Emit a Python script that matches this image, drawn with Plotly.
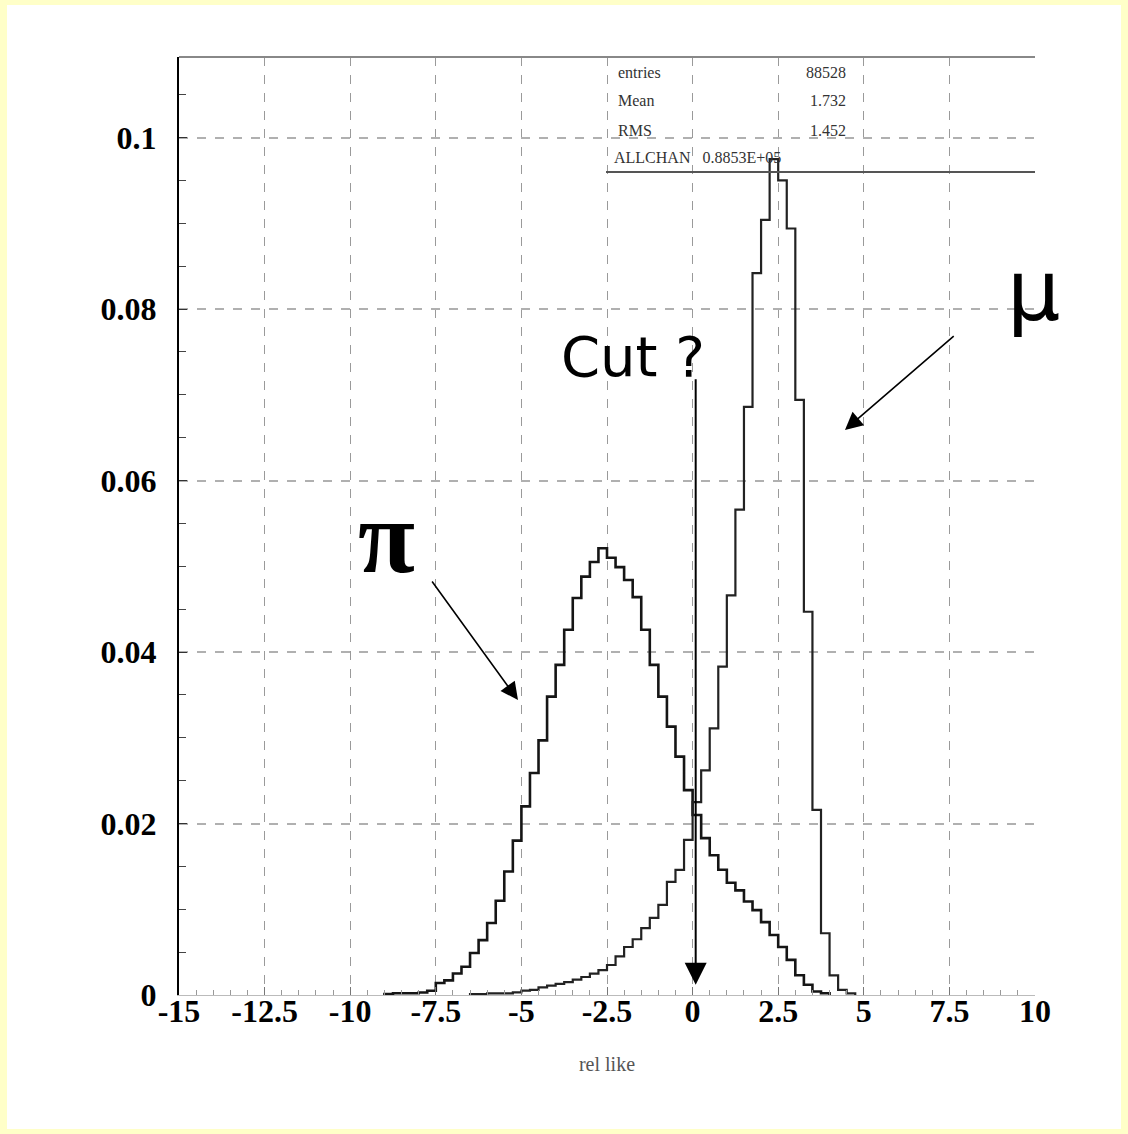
import numpy as np
import plotly.graph_objects as go

# ---------------- data ----------------
bin_width = 0.25
pion_start = -9.0
pion_values = [0.0001, 0.0002, 0.0002, 0.0002, 0.0003, 0.0005, 0.0014, 0.0017, 0.0025, 0.0033,
               0.0049, 0.0064, 0.0084, 0.0110, 0.0144, 0.0180, 0.0220, 0.0259, 0.0297, 0.0348,
               0.0385, 0.0426, 0.0463, 0.0488, 0.0505, 0.0521, 0.0510, 0.0499, 0.0484, 0.0464,
               0.0426, 0.0385, 0.0348, 0.0313, 0.0278, 0.0239, 0.0210, 0.0183, 0.0163, 0.0146,
               0.0131, 0.0122, 0.0109, 0.0099, 0.0085, 0.0070, 0.0056, 0.0041, 0.0023, 0.0012,
               0.0004, 0.0002]
muon_start = -6.5
muon_values = [0.0001, 0.0001, 0.0002, 0.0002, 0.0002, 0.0003, 0.0005, 0.0006, 0.0009, 0.0011,
               0.0013, 0.0015, 0.0018, 0.0021, 0.0025, 0.0029, 0.0035, 0.0045, 0.0056, 0.0065,
               0.0078, 0.0090, 0.0105, 0.0132, 0.0146, 0.0181, 0.0225, 0.0262, 0.0311, 0.0383,
               0.0466, 0.0566, 0.0686, 0.0842, 0.0904, 0.0975, 0.0950, 0.0894, 0.0694, 0.0447,
               0.0216, 0.0072, 0.0023, 0.0006, 0.0002]

x_ticks = [-15, -12.5, -10, -7.5, -5, -2.5, 0, 2.5, 5, 7.5, 10]
x_tick_labels = ["-15", "-12.5", "-10", "-7.5", "-5", "-2.5", "0", "2.5", "5", "7.5", "10"]
y_ticks = [0, 0.02, 0.04, 0.06, 0.08, 0.1]
y_tick_labels = ["0", "0.02", "0.04", "0.06", "0.08", "0.1"]

stats_names = ["entries", "Mean", "RMS"]
stats_values = ["88528", "1.732", "1.452"]
allchan_text = "ALLCHAN   0.8853E+05"

cut_position = 0.09


def step_xy(start, values):
    edges = start + bin_width * np.arange(len(values) + 1)
    xs = np.concatenate([[edges[0]], edges])
    ys = np.concatenate([[0.0], values, [0.0]])
    return xs, ys


fig = go.Figure()

px_, py_ = step_xy(pion_start, pion_values)
fig.add_trace(go.Scatter(x=px_, y=py_, mode="lines", line=dict(shape="hv", color="#151515", width=2.6),
                         name="pi", showlegend=False, hoverinfo="skip"))
mx_, my_ = step_xy(muon_start, muon_values)
fig.add_trace(go.Scatter(x=mx_, y=my_, mode="lines", line=dict(shape="hv", color="#222222", width=2.2),
                         name="mu", showlegend=False, hoverinfo="skip"))

# ---------------- layout geometry ----------------
W, H = 1128, 1134
L, R, T, B = 179, 93, 57, 139
pw, ph = W - L - R, H - T - B


def paper_x(px):
    return (px - L) / pw


def paper_y(py):
    return (H - B - py) / ph


shapes = [
    # white card on yellow paper
    dict(type="rect", xref="paper", yref="paper", layer="below",
         x0=paper_x(7), x1=paper_x(1121), y0=paper_y(1129), y1=paper_y(5),
         fillcolor="white", line=dict(width=0)),
    # top frame line
    dict(type="line", xref="paper", yref="paper", x0=0, x1=1, y0=1, y1=1,
         line=dict(color="#888888", width=2)),
    # stats box bottom line
    dict(type="line", xref="paper", yref="paper", x0=paper_x(606), x1=1,
         y0=paper_y(172), y1=paper_y(172), line=dict(color="#555555", width=2)),
]

annotations = []
stat_font = dict(family="Liberation Serif", size=16, color="#333333")
row_py = [72, 101, 130]
for name, val, rpy in zip(stats_names, stats_values, row_py):
    annotations.append(dict(xref="paper", yref="paper", x=paper_x(616), y=paper_y(rpy), text=name,
                            showarrow=False, xanchor="left", yanchor="middle", font=stat_font))
    annotations.append(dict(xref="paper", yref="paper", x=paper_x(848), y=paper_y(rpy), text=val,
                            showarrow=False, xanchor="right", yanchor="middle", font=stat_font))
annotations.append(dict(xref="paper", yref="paper", x=paper_x(612), y=paper_y(157), text=allchan_text,
                        showarrow=False, xanchor="left", yanchor="middle", font=stat_font))

# Cut text and arrow
annotations.append(dict(x=-1.75, y=0.0745, xref="x", yref="y", text="Cut ?", showarrow=False,
                        font=dict(family="DejaVu Sans", size=56, color="black")))
annotations.append(dict(x=cut_position, y=0.0012, xref="x", yref="y", ax=cut_position, ay=0.072,
                        axref="x", ayref="y", text="", showarrow=True, arrowhead=2, arrowsize=2.2,
                        arrowwidth=2, arrowcolor="black"))
# mu label (outside the axis range -> paper coordinates) and arrow
annotations.append(dict(x=paper_x(1062), y=paper_y(240), xref="paper", yref="paper", text="μ",
                        showarrow=False, font=dict(family="DejaVu Sans", size=84, color="black")))
annotations.append(dict(x=4.45, y=0.0659, xref="x", yref="y", ax=7.67, ay=0.077,
                        axref="x", ayref="y", text="", showarrow=True, arrowhead=2, arrowsize=2.2,
                        arrowwidth=1.6, arrowcolor="black"))
# pi label and arrow
annotations.append(dict(x=-8.95, y=0.0535, xref="x", yref="y", text="<b>π</b>", showarrow=False,
                        font=dict(family="Liberation Serif", size=104, color="black")))
annotations.append(dict(x=-5.1, y=0.0344, xref="x", yref="y", ax=-7.64, ay=0.0484,
                        axref="x", ayref="y", text="", showarrow=True, arrowhead=2, arrowsize=2.2,
                        arrowwidth=1.6, arrowcolor="black"))

tick_font = dict(family="Liberation Serif", size=32, color="black", weight="bold")

fig.update_layout(
    width=W, height=H,
    margin=dict(l=L, r=R, t=T, b=B, pad=0),
    paper_bgcolor="#FFFFC8",
    plot_bgcolor="white",
    shapes=shapes,
    annotations=annotations,
    xaxis=dict(
        range=[-15, 10], tickvals=x_ticks, ticktext=x_tick_labels, tickfont=tick_font,
        showgrid=True, gridcolor="#9a9a9a", griddash="dash", gridwidth=1,
        showline=True, linecolor="#bbbbbb", linewidth=1, zeroline=False,
        ticks="inside", ticklen=8, tickcolor="#777777",
        minor=dict(dtick=0.5, tick0=0, ticks="inside", ticklen=5, tickcolor="#999999", showgrid=False),
        ticklabelstandoff=-12,
        title=dict(text="rel like", font=dict(family="Liberation Serif", size=20, color="#555555"),
                   standoff=28),
    ),
    yaxis=dict(
        range=[0, 0.1094], tickvals=y_ticks, ticktext=y_tick_labels, tickfont=tick_font,
        showgrid=True, gridcolor="#b0b0b0", griddash="dash", gridwidth=1.5,
        showline=True, linecolor="black", linewidth=2, zeroline=False,
        ticks="inside", ticklen=8, tickcolor="#333333",
        minor=dict(dtick=0.005, tick0=0, ticks="inside", ticklen=7, tickcolor="#444444", showgrid=False),
        ticklabelstandoff=14,
    ),
)

fig.write_html("out.html")
